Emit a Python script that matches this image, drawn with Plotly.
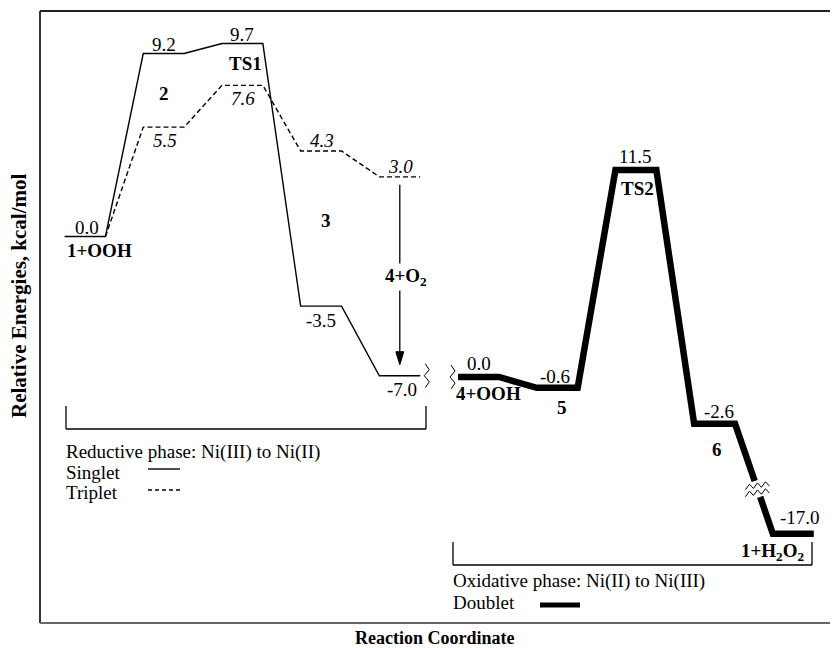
import plotly.graph_objects as go

# ---------------- data ----------------
reductive_steps = [0, 1, 2, 3, 4]
reductive_names = ["<b>1+OOH</b>", "<b>2</b>", "<b>TS1</b>", "<b>3</b>", "<b>4+O<sub>2</sub></b>"]
singlet_energy = [0.0, 9.2, 9.7, -3.5, -7.0]
triplet_energy = [0.0, 5.5, 7.6, 4.3, 3.0]

oxidative_steps = [5, 6, 7, 8, 9]
oxidative_names = ["<b>4+OOH</b>", "<b>5</b>", "<b>TS2</b>", "<b>6</b>", "<b>1+H<sub>2</sub>O<sub>2</sub></b>"]
doublet_energy = [0.0, -0.6, 11.5, -2.6, -17.0]
doublet_broken_level = -8.7   # where -17.0 is drawn after the axis break

# ---------------- geometry / calibration (page pixels) ----------------
BODY = 8                      # browser default body margin
W, H = 838 - BODY, 648 - BODY
PLOT_L, PLOT_R, PLOT_T, PLOT_B = 40, 838, 11, 623      # page pixels
X_PX0, X_PX_STEP = 85.0, 78.7
Y1_PX0, Y1_PX_UNIT = 236.5, 19.89
Y2_PX0, Y2_PX_UNIT = 377.0, 18.01
HW = 0.26  # half width of a level

xrange_ = [(PLOT_L - X_PX0) / X_PX_STEP, (PLOT_R - X_PX0) / X_PX_STEP]
y1range = [(Y1_PX0 - PLOT_B) / Y1_PX_UNIT, (Y1_PX0 - PLOT_T) / Y1_PX_UNIT]
y2range = [(Y2_PX0 - PLOT_B) / Y2_PX_UNIT, (Y2_PX0 - PLOT_T) / Y2_PX_UNIT]

FONT = "Liberation Serif"
FS = 19


def pxx(px):
    return (px - PLOT_L) / (PLOT_R - PLOT_L)


def pyy(py):
    return (PLOT_B - py) / (PLOT_B - PLOT_T)


def level_path(steps, energies):
    xs, ys = [], []
    for s, e in zip(steps, energies):
        xs += [s - HW, s + HW]
        ys += [e, e]
    return xs, ys


fig = go.Figure()

# singlet
sx, sy = level_path(reductive_steps, singlet_energy)
fig.add_trace(go.Scatter(x=sx, y=sy, mode="lines", line=dict(color="black", width=1.4),
                         yaxis="y", hoverinfo="skip"))
# triplet (starts from the end of the shared 1+OOH level)
tx, ty = level_path(reductive_steps[1:], triplet_energy[1:])
tx = [reductive_steps[0] + HW] + tx
ty = [triplet_energy[0]] + ty
fig.add_trace(go.Scatter(x=tx, y=ty, mode="lines",
                         line=dict(color="black", width=1.4, dash="5px,3px"),
                         yaxis="y", hoverinfo="skip"))

# doublet with a break in the last segment
disp = doublet_energy[:4] + [doublet_broken_level]
dx_, dy_ = level_path(oxidative_steps, disp)
xa, ya = oxidative_steps[3] + HW, disp[3]
xb, yb = oxidative_steps[4] - HW, disp[4]
t1, t2 = 0.52, 0.665
dxs = dx_[:8] + [xa + t1 * (xb - xa), None, xa + t2 * (xb - xa)] + dx_[8:]
dys = dy_[:8] + [ya + t1 * (yb - ya), None, ya + t2 * (yb - ya)] + dy_[8:]
fig.add_trace(go.Scatter(x=dxs, y=dys, mode="lines", line=dict(color="black", width=6.5),
                         yaxis="y2", hoverinfo="skip", connectgaps=False))

# "≈" break marks on the doublet segment
tc = (t1 + t2) / 2
cx, cy = xa + tc * (xb - xa), ya + tc * (yb - ya)
for off in (-3.5, 3.5):
    zx, zy = [], []
    for i, ddx in enumerate([-12, -8, -4, 0, 4, 8, 12]):
        ddy = off + (-2.5 if i % 2 else 2.5) - ddx * 0.15
        zx.append(cx + ddx / X_PX_STEP)
        zy.append(cy - ddy / Y2_PX_UNIT)
    fig.add_trace(go.Scatter(x=zx, y=zy, mode="lines", line=dict(color="black", width=1),
                             yaxis="y2", hoverinfo="skip"))


# vertical zigzag break marks between phases
def vzig(cx_, cy_, unit, yax):
    offs = [(-1, -12), (3, -6), (-2, 0), (3, 6), (-1, 12)]
    fig.add_trace(go.Scatter(x=[cx_ + a / X_PX_STEP for a, b in offs],
                             y=[cy_ - b / unit for a, b in offs], mode="lines",
                             line=dict(color="black", width=1), yaxis=yax, hoverinfo="skip"))


vzig(reductive_steps[-1] + HW + 6 / X_PX_STEP, singlet_energy[-1], Y1_PX_UNIT, "y")
vzig(oxidative_steps[0] - HW - 6 / X_PX_STEP, doublet_energy[0], Y2_PX_UNIT, "y2")

# arrow from triplet 4+O2 down to singlet 4+O2
ax = reductive_steps[-1]
top = triplet_energy[-1] - 8 / Y1_PX_UNIT
base = singlet_energy[-1] + 24 / Y1_PX_UNIT
tip = singlet_energy[-1] + 11 / Y1_PX_UNIT
fig.add_trace(go.Scatter(x=[ax, ax], y=[top, base], mode="lines",
                         line=dict(color="black", width=1.3), yaxis="y", hoverinfo="skip"))
fig.add_trace(go.Scatter(x=[ax - 4 / X_PX_STEP, ax + 4 / X_PX_STEP, ax, ax - 4 / X_PX_STEP],
                         y=[base, base, tip, base], mode="lines", fill="toself",
                         fillcolor="black", line=dict(color="black", width=1),
                         yaxis="y", hoverinfo="skip"))

ann = []


def label(text, x, y, yref, xs=0, ys=0, xanchor="center", size=FS):
    ann.append(dict(text=text, x=x, y=y, xref="x", yref=yref, xshift=xs, yshift=ys,
                    xanchor=xanchor, yanchor="middle", showarrow=False,
                    font=dict(family=FONT, size=size, color="black")))


# singlet energies
s_pos = ["above", "above", "above", "below", "below"]
s_xs = [2, 0, 0, 0, 2]
for s, e, p, xs in zip(reductive_steps, singlet_energy, s_pos, s_xs):
    label(f"{e:.1f}", s, e, "y", xs=xs, ys=9 if p == "above" else -14)
# triplet energies (italic)
t_pos = ["below", "below", "above", "above"]
for s, e, p in zip(reductive_steps[1:], triplet_energy[1:], t_pos):
    label(f"<i>{e:.1f}</i>", s, e, "y", xs=1, ys=10 if p == "above" else -13)

# reductive names
label(reductive_names[0], reductive_steps[0] - HW, singlet_energy[0], "y", ys=-14, xanchor="left")
label(reductive_names[1], reductive_steps[1], singlet_energy[1], "y", ys=-40)
label(reductive_names[2], reductive_steps[2], singlet_energy[2], "y", xs=3, ys=-20)
label(reductive_names[3], reductive_steps[3], singlet_energy[3], "y", xs=5, ys=86)
ann.append(dict(text=reductive_names[4], x=reductive_steps[4],
                y=(triplet_energy[4] + singlet_energy[4]) / 2, xref="x", yref="y",
                xshift=6, yshift=-1, showarrow=False, bgcolor="white",
                font=dict(family=FONT, size=FS, color="black")))

# doublet energies
d_xs = [0, -2, 0, 4, 7]
d_ys = [14, 11, 13, 12, 16]
for s, e, v, xs, ys in zip(oxidative_steps, doublet_energy, disp, d_xs, d_ys):
    label(f"{e:.1f}", s, v, "y2", xs=xs, ys=ys)
# oxidative names
label(oxidative_names[0], oxidative_steps[0] - HW, disp[0], "y2", xs=-4, ys=-16, xanchor="left")
label(oxidative_names[1], oxidative_steps[1], disp[1], "y2", xs=5, ys=-20)
label(oxidative_names[2], oxidative_steps[2], disp[2], "y2", xs=2, ys=-19)
label(oxidative_names[3], oxidative_steps[3], disp[3], "y2", xs=2, ys=-26)
label(oxidative_names[4], oxidative_steps[4] + HW, disp[4], "y2", xs=-7, ys=-18, xanchor="right")


def ptext(text, px, py, size=FS, xanchor="left", angle=0):
    ann.append(dict(text=text, x=pxx(px), y=pyy(py), xref="paper", yref="paper",
                    xanchor=xanchor, yanchor="middle", showarrow=False, textangle=angle,
                    font=dict(family=FONT, size=size, color="black")))


ptext("Reductive phase: Ni(III) to Ni(II)", 64, 452)
ptext("Singlet", 64, 472)
ptext("Triplet", 64, 492)
ptext("Oxidative phase: Ni(II) to Ni(III)", 451, 581)
ptext("Doublet", 451, 602)
ptext("<b>Reaction Coordinate</b>", 434, 638, size=18, xanchor="center")
ptext("<b>Relative Energies, kcal/mol</b>", 19, 296, size=21, xanchor="center", angle=-90)

shapes = []


def pline(x0, y0, x1, y1, width=1.3, color="black", dash=None):
    d = dict(color=color, width=width)
    if dash:
        d["dash"] = dash
    shapes.append(dict(type="line", xref="paper", yref="paper", x0=pxx(x0), y0=pyy(y0),
                       x1=pxx(x1), y1=pyy(y1), line=d, layer="above"))


# brackets
pline(66, 406, 66, 429)
pline(66, 429, 426, 429)
pline(426, 406, 426, 429)
pline(453, 542, 453, 565)
pline(453, 565, 812, 565)
pline(812, 542, 812, 565)
# legend samples
pline(148, 469, 180, 469, width=1.4)
pline(148, 490, 181, 490, width=1.4, dash="4px,3px")
pline(540, 605, 580, 605, width=5)
# frame (left, top, bottom)
pline(40, 11, 40, 623, width=2, color="#333333")
pline(40, 11, 838, 11, width=2, color="#222222")
pline(40, 623, 838, 623, width=2, color="#666666")

fig.update_layout(
    width=W, height=H,
    margin=dict(l=PLOT_L - BODY, r=(838 - BODY) - (PLOT_R - BODY), t=PLOT_T - BODY,
                b=H - (PLOT_B - BODY), pad=0),
    paper_bgcolor="white", plot_bgcolor="white",
    showlegend=False, hovermode=False,
    xaxis=dict(range=xrange_, visible=False, fixedrange=True),
    yaxis=dict(range=y1range, visible=False, fixedrange=True),
    yaxis2=dict(range=y2range, visible=False, overlaying="y", fixedrange=True),
    annotations=ann, shapes=shapes,
)

fig.write_html("out.html")
